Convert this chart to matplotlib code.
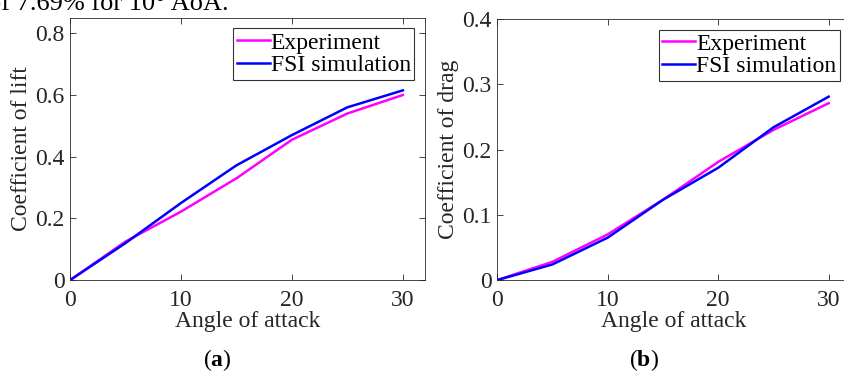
import numpy as np
import matplotlib
matplotlib.use('Agg')
import matplotlib.pyplot as plt

plt.rcParams['font.family'] = ['Liberation Serif', 'DejaVu Serif']
plt.rcParams['mathtext.fontset'] = 'custom'
plt.rcParams['mathtext.rm'] = 'Liberation Serif'
plt.rcParams['mathtext.bf'] = 'Liberation Serif:bold'

# data
aoa = [0, 5, 10, 15, 20, 25, 30]
cl_exp = [0.0, 0.125, 0.222, 0.33, 0.455, 0.54, 0.60]
cl_fsi = [0.0, 0.12, 0.25, 0.372, 0.47, 0.56, 0.615]
cd_exp = [0.0, 0.028, 0.07, 0.123, 0.181, 0.23, 0.271]
cd_fsi = [0.0, 0.024, 0.065, 0.123, 0.172, 0.234, 0.281]

lift_ticks = [0, 0.2, 0.4, 0.6, 0.8]
lift_ticklabels = ['0', '0.2', '0.4', '0.6', '0.8']
drag_ticks = [0, 0.1, 0.2, 0.3, 0.4]
drag_ticklabels = ['0', '0.1', '0.2', '0.3', '0.4']
x_ticks = [0, 10, 20, 30]

grey = '#262626'
fs = 17

fig = plt.figure(figsize=(8.44, 3.72), dpi=100)

def style(ax, ylabel, yticks, yticklabels, ylim):
  ax.set_xlim(0, 32)
  ax.set_ylim(*ylim)
  ax.set_xticks(x_ticks)
  ax.set_xticklabels([str(t) for t in x_ticks])
  ax.set_yticks(yticks)
  ax.set_yticklabels(yticklabels)
  ax.tick_params(direction='in', top=True, right=True, length=4, width=0.6,
                 colors=grey, labelsize=fs)
  ax.tick_params(axis='x', pad=7)
  ax.tick_params(axis='y', pad=4)
  for s in ax.spines.values():
    s.set_color(grey)
    s.set_linewidth(0.6)
  ax.set_xlabel('Angle of attack', fontsize=fs, color=grey, labelpad=0)
  ax.set_ylabel(ylabel, fontsize=fs, color=grey, labelpad=2)
  leg = ax.legend(loc='upper right', fontsize=fs, frameon=True, fancybox=False,
                  handlelength=1.4, handletextpad=0.05, borderpad=0.15,
                  labelspacing=0.05, borderaxespad=0.45)
  leg.get_frame().set_edgecolor('black')
  leg.get_frame().set_linewidth(0.8)

ax1 = fig.add_axes([0.083, 0.247, 0.4206, 0.705])
ax1.plot(aoa, cl_exp, color='#ff00ff', lw=1.8, label='Experiment')
ax1.plot(aoa, cl_fsi, color='#0000ff', lw=1.8, label='FSI simulation')
style(ax1, 'Coefficient of lift', lift_ticks, lift_ticklabels, (0, 0.85))

ax2 = fig.add_axes([0.589, 0.247, 0.419, 0.702])
ax2.plot(aoa, cd_exp, color='#ff00ff', lw=1.8, label='Experiment')
ax2.plot(aoa, cd_fsi, color='#0000ff', lw=1.8, label='FSI simulation')
style(ax2, 'Coefficient of drag', drag_ticks, drag_ticklabels, (0, 0.4))

fig.text(0.257, 0.032, r'(${\bf a}$)', ha='center', va='center', fontsize=fs)
fig.text(0.763, 0.032, r'(${\bf b}$)', ha='center', va='center', fontsize=fs)

# tail of the caption line above the figure, clipped by the crop
fig.text(-0.014, 1 - 10 / 372, 'of 7.69% for 10° AoA.', ha='left', va='baseline',
         fontsize=19)

fig.savefig('out.png', dpi=100)
